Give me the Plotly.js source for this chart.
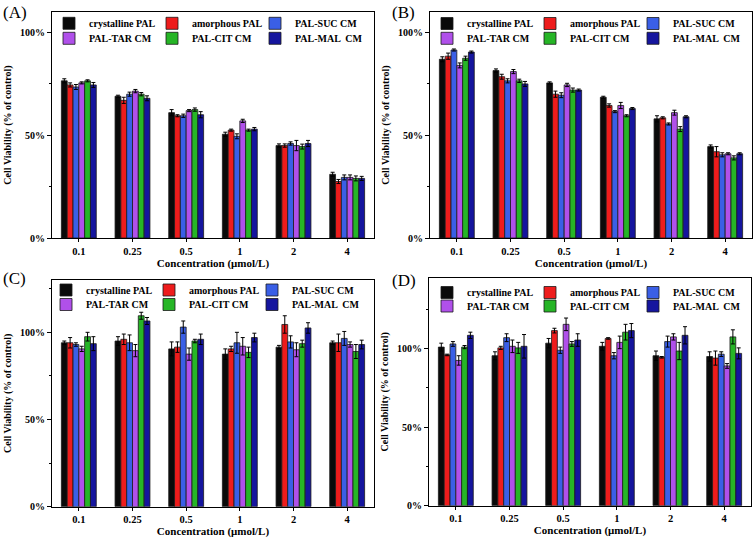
<!DOCTYPE html>
<html>
<head>
<meta charset="utf-8">
<script src="https://cdn.plot.ly/plotly-3.0.1.min.js"></script>
<style>html,body{margin:0;padding:0;background:#fff}#chart{width:756px;height:539px}</style>
</head>
<body>
<div id="chart"></div>
<script>
// ---- categories and series ----
const concentrations = ['0.1', '0.25', '0.5', '1', '2', '4'];
const seriesNames = ['crystalline PAL', 'amorphous PAL', 'PAL-SUC CM', 'PAL-TAR CM', 'PAL-CIT CM', 'PAL-MAL  CM'];
const seriesColors = ['#0a0a0a', '#ee1c1c', '#3a5fe6', '#b050ea', '#26b526', '#15159e'];

// ---- panel (A): rows = series, columns = concentrations (% of control) ----
const valuesA = [
  [76.5, 69.0, 61.0, 50.5, 45.0, 31.0],
  [74.5, 67.0, 59.5, 52.5, 45.0, 27.5],
  [73.5, 70.0, 59.5, 49.5, 46.0, 29.5],
  [75.5, 71.5, 62.0, 57.0, 45.0, 29.5],
  [76.5, 70.0, 62.5, 52.5, 44.5, 29.0],
  [74.5, 68.0, 60.0, 53.0, 46.0, 29.0]
];
const errorsA = [
  [1.0, 0.5, 1.5, 1.0, 0.8, 1.0],
  [1.0, 1.5, 0.5, 0.5, 0.8, 1.0],
  [1.2, 1.0, 0.8, 1.2, 0.8, 1.2],
  [0.5, 0.8, 0.5, 0.8, 2.5, 1.2],
  [0.5, 0.8, 0.8, 0.5, 1.2, 1.2],
  [1.2, 1.2, 1.5, 0.8, 1.5, 1.0]
];

// ---- panel (B) ----
const valuesB = [
  [87.0, 81.5, 75.5, 68.5, 58.0, 44.5],
  [88.5, 78.5, 70.0, 64.5, 58.5, 42.0],
  [91.5, 76.5, 69.5, 61.5, 55.5, 40.5],
  [84.0, 81.0, 74.5, 64.5, 61.0, 41.0],
  [87.5, 76.5, 72.0, 59.5, 53.0, 39.0],
  [90.5, 75.0, 72.0, 63.0, 59.0, 41.0]
];
const errorsB = [
  [1.2, 0.8, 0.5, 0.5, 1.5, 0.8],
  [1.5, 1.2, 1.5, 0.8, 0.5, 2.5],
  [0.5, 1.0, 1.2, 0.5, 0.5, 1.0],
  [1.2, 1.0, 0.8, 1.5, 1.2, 0.5],
  [1.0, 0.8, 1.0, 0.5, 1.2, 1.0],
  [0.5, 1.2, 0.5, 0.5, 0.5, 0.5]
];

// ---- panel (C) ----
const valuesC = [
  [94.0, 95.0, 90.5, 87.5, 91.5, 94.0],
  [94.0, 96.0, 91.5, 90.5, 104.5, 94.0],
  [93.0, 94.0, 103.0, 94.0, 94.5, 96.5],
  [90.5, 89.5, 87.5, 92.0, 90.0, 93.0],
  [97.5, 109.5, 95.0, 88.5, 93.5, 89.0],
  [93.5, 106.5, 96.0, 97.0, 102.5, 93.0]
];
const errorsC = [
  [1.0, 2.5, 4.0, 3.0, 1.0, 1.0],
  [3.0, 3.0, 3.0, 1.5, 5.0, 5.0],
  [1.0, 4.5, 3.5, 6.0, 3.5, 4.0],
  [1.5, 3.5, 3.5, 5.0, 4.0, 1.5],
  [2.5, 2.0, 1.0, 3.0, 2.0, 4.0],
  [4.0, 2.0, 3.0, 2.5, 3.0, 2.5]
];

// ---- panel (D) ----
const valuesD = [
  [101.0, 95.5, 103.5, 101.5, 95.5, 95.0],
  [96.0, 100.5, 111.5, 106.5, 94.5, 94.0],
  [103.0, 107.0, 99.0, 95.5, 104.5, 96.5],
  [92.5, 101.5, 115.5, 104.0, 107.5, 89.0],
  [101.0, 100.5, 103.0, 110.5, 98.5, 107.5],
  [108.5, 101.5, 105.5, 111.5, 108.5, 97.0]
];
const errorsD = [
  [2.5, 2.5, 3.0, 2.5, 3.0, 3.0],
  [0.5, 1.0, 1.5, 0.5, 0.5, 4.5],
  [1.5, 2.5, 2.0, 2.0, 3.5, 1.5],
  [3.0, 4.0, 4.0, 4.0, 2.0, 1.5],
  [1.0, 3.5, 1.5, 5.0, 5.5, 4.5],
  [2.0, 7.5, 4.0, 4.5, 5.5, 3.5]
];

// ---- style constants ----
const FONT = 'Liberation Serif, Times New Roman, serif';
const W = 756, H = 539;

const panels = [
  {vals: valuesA, errs: errorsA, xa: 'x',  ya: 'y',  legends: ['legend', 'legend2']},
  {vals: valuesB, errs: errorsB, xa: 'x2', ya: 'y2', legends: ['legend3', 'legend4']},
  {vals: valuesC, errs: errorsC, xa: 'x3', ya: 'y3', legends: ['legend5', 'legend6']},
  {vals: valuesD, errs: errorsD, xa: 'x4', ya: 'y4', legends: ['legend7', 'legend8']}
];

const traces = [];
panels.forEach(p => {
  seriesNames.forEach((name, i) => {
    traces.push({
      type: 'bar',
      name: name,
      x: concentrations,
      y: p.vals[i],
      xaxis: p.xa,
      yaxis: p.ya,
      legend: p.legends[i < 3 ? 0 : 1],
      legendwidth: (i % 3 === 2) ? 66 : 58,
      marker: {color: seriesColors[i], line: {color: '#1a1a1a', width: 0.8}},
      error_y: {type: 'data', array: p.errs[i], visible: true, color: '#000', thickness: 1, width: 2},
      hoverinfo: 'skip'
    });
  });
});

function px2x(px) { return px / W; }
function px2y(py) { return 1 - py / H; }

function xAxis(l, r, anchor) {
  return {
    domain: [px2x(l), px2x(r)], anchor: anchor, type: 'category',
    range: [-0.5, 5.5], showline: true, mirror: true, linecolor: '#000', linewidth: 1,
    ticks: 'outside', ticklen: 3, tickcolor: '#000', showgrid: false, zeroline: false,
    tickfont: {family: FONT, size: 10.5, weight: 'bold', color: '#000'},
    title: {text: 'Concentration (μmol/L)', font: {family: FONT, size: 11, weight: 'bold', color: '#000'}, standoff: 0}
  };
}
function yAxis(t, b, top, anchor) {
  return {
    domain: [px2y(b), px2y(t)], anchor: anchor, range: [0, top],
    tickmode: 'linear', tick0: 0, dtick: 50, ticksuffix: '%',
    showline: true, mirror: true, linecolor: '#000', linewidth: 1,
    ticks: 'outside', ticklen: 4, tickcolor: '#000', showgrid: false, zeroline: false,
    minor: {tick0: 0, dtick: 25, ticks: 'outside', ticklen: 2, tickcolor: '#000', showgrid: false},
    tickfont: {family: FONT, size: 10, weight: 'bold', color: '#000'},
    title: {text: 'Cell Viability (% of control)', font: {family: FONT, size: 10, weight: 'bold', color: '#000'}, standoff: 6}
  };
}
function legendAt(xpx, ypx) {
  return {
    orientation: 'h', x: px2x(xpx), y: px2y(ypx), xanchor: 'left', yanchor: 'middle',
    xref: 'paper', yref: 'paper', bgcolor: 'rgba(0,0,0,0)', borderwidth: 0,
    entrywidth: 58, entrywidthmode: 'pixels', traceorder: 'normal',
    font: {family: FONT, size: 10, weight: 'bold', color: '#000'}
  };
}
function label(text, xpx, ypx) {
  return {text: text, xref: 'paper', yref: 'paper', x: px2x(xpx), y: px2y(ypx),
    xanchor: 'left', yanchor: 'top', showarrow: false,
    font: {family: FONT, size: 17, color: '#000'}};
}

const layout = {
  width: W, height: H, margin: {l: 0, r: 0, t: 0, b: 0},
  paper_bgcolor: '#fff', plot_bgcolor: '#fff',
  font: {family: FONT, color: '#000'},
  barmode: 'group', bargap: 0.35, bargroupgap: 0,
  xaxis: xAxis(52, 374, 'y'),   yaxis: yAxis(12, 238, 110, 'x'),
  xaxis2: xAxis(430, 752, 'y2'), yaxis2: yAxis(12, 238, 110, 'x2'),
  xaxis3: xAxis(52, 374, 'y3'), yaxis3: yAxis(280, 506.7, 130, 'x3'),
  xaxis4: xAxis(429, 751, 'y4'), yaxis4: yAxis(278, 505.7, 145, 'x4'),
  legend: legendAt(49, 23.3),  legend2: legendAt(49, 38.3),
  legend3: legendAt(427, 23.5), legend4: legendAt(427, 38.3),
  legend5: legendAt(46, 290),  legend6: legendAt(46, 304.5),
  legend7: legendAt(427, 292.5), legend8: legendAt(427, 306),
  annotations: [
    label('(A)', 1, 1), label('(B)', 390, 1),
    label('(C)', 1, 267), label('(D)', 390, 269)
  ],
  showlegend: true
};

Plotly.newPlot('chart', traces, layout, {staticPlot: true, displayModeBar: false});
</script>
</body>
</html>
